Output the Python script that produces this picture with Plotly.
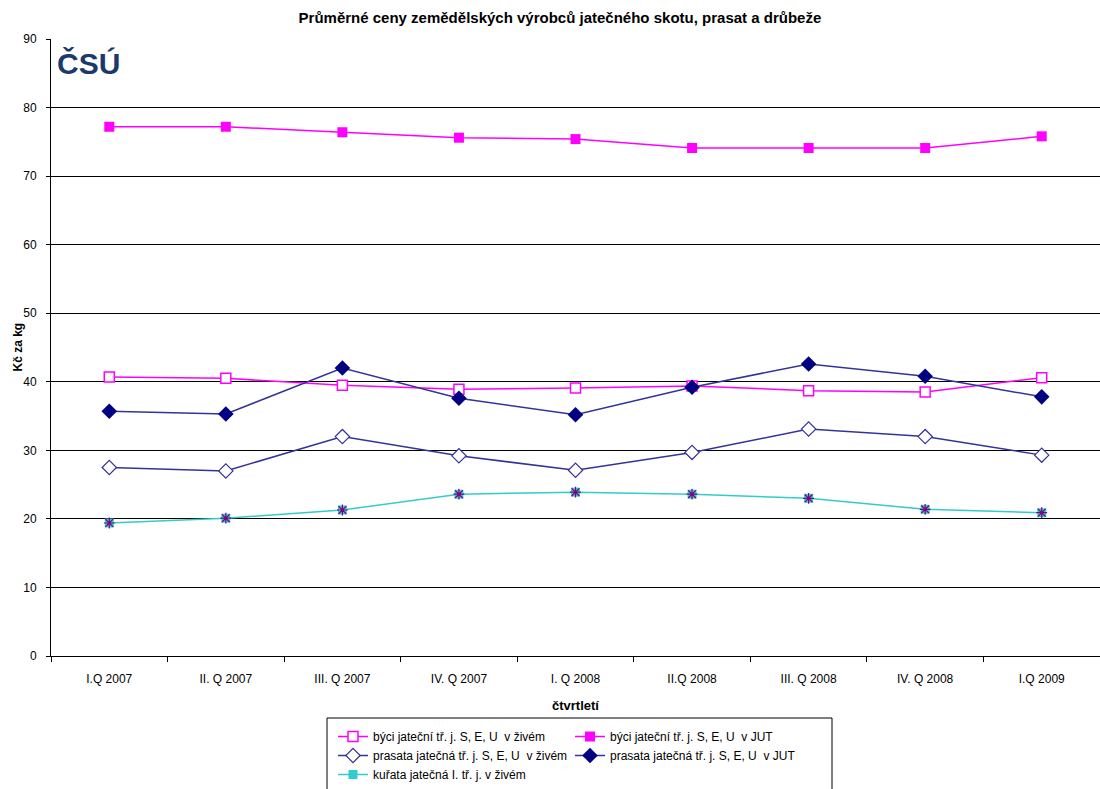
import plotly.graph_objects as go

# Quarters on the category axis
quarters = ["I.Q 2007", "II. Q 2007", "III. Q 2007", "IV. Q 2007", "I. Q 2008",
            "II.Q 2008", "III. Q 2008", "IV. Q 2008", "I.Q 2009"]

# Average producer prices, Kč per kg
byci_zive = [40.7, 40.5, 39.5, 38.9, 39.1, 39.4, 38.7, 38.5, 40.6]
byci_jut = [77.2, 77.2, 76.4, 75.6, 75.4, 74.1, 74.1, 74.1, 75.8]
prasata_zive = [27.5, 27.0, 32.0, 29.2, 27.1, 29.7, 33.1, 32.0, 29.3]
prasata_jut = [35.7, 35.3, 42.0, 37.6, 35.2, 39.2, 42.6, 40.8, 37.8]
kurata_zive = [19.4, 20.1, 21.3, 23.6, 23.9, 23.6, 23.0, 21.4, 20.9]

y_ticks = list(range(0, 91, 10))

FONT = "Liberation Sans Narrow, Liberation Sans, Arial, sans-serif"
MAGENTA = "#FF00FF"
NAVY = "#000080"
NAVY_LINE = "#333399"
TEAL = "#33CCCC"

fig = go.Figure()

fig.add_trace(go.Scatter(
    x=quarters, y=byci_zive, mode="lines+markers",
    name="býci jateční tř. j. S, E, U  v živém",
    line=dict(color=MAGENTA, width=1.5),
    marker=dict(symbol="square", size=10, color="white",
                line=dict(color=MAGENTA, width=1.5)),
    legend="legend"))
fig.add_trace(go.Scatter(
    x=quarters, y=byci_jut, mode="lines+markers",
    name="býci jateční tř. j. S, E, U  v JUT",
    line=dict(color=MAGENTA, width=1.5),
    marker=dict(symbol="square", size=10, color=MAGENTA),
    legend="legend2"))
fig.add_trace(go.Scatter(
    x=quarters, y=prasata_zive, mode="lines+markers",
    name="prasata jatečná tř. j. S, E, U  v živém",
    line=dict(color=NAVY_LINE, width=1.5),
    marker=dict(symbol="diamond", size=11, color="white",
                line=dict(color=NAVY_LINE, width=1.2)),
    legend="legend"))
fig.add_trace(go.Scatter(
    x=quarters, y=prasata_jut, mode="lines+markers",
    name="prasata jatečná tř. j. S, E, U  v JUT",
    line=dict(color=NAVY_LINE, width=1.5),
    marker=dict(symbol="diamond", size=12, color=NAVY),
    legend="legend2"))
fig.add_trace(go.Scatter(
    x=quarters, y=kurata_zive, mode="lines+markers",
    name="kuřata jatečná I. tř. j. v živém",
    line=dict(color=TEAL, width=1.5),
    marker=dict(symbol="square", size=9, color=TEAL),
    legend="legend"))
# asterisk overlay on the poultry markers
fig.add_trace(go.Scatter(
    x=quarters, y=kurata_zive, mode="markers", showlegend=False,
    marker=dict(symbol="asterisk-open", size=9, color="#800080",
                line=dict(color="#800080", width=1.2)),
    hoverinfo="skip"))

# legend frame spanning both legend columns
fig.add_shape(type="rect", xref="paper", yref="paper",
              x0=(327 - 51) / 1049, x1=(832 - 51) / 1049,
              y0=(656 - 718) / 617, y1=(656 - 800) / 617,
              line=dict(color="black", width=1), fillcolor="rgba(0,0,0,0)")

fig.add_annotation(text="ČSÚ", xref="paper", yref="paper",
                   x=(55 - 51) / 1049, y=(656 - 63) / 617,
                   xanchor="left", yanchor="middle", showarrow=False,
                   font=dict(family="Liberation Sans, Arial", size=30,
                             color="#1B3A6B", weight="bold"))
fig.add_annotation(text="čtvrtletí", xref="paper", yref="paper",
                   x=0.5, y=(656 - 705) / 617, xanchor="center", yanchor="middle",
                   showarrow=False,
                   font=dict(family=FONT, size=13, color="black", weight="bold"))
fig.add_annotation(text="Kč za kg", xref="paper", yref="paper",
                   x=(17 - 51) / 1049, y=0.5, textangle=-90,
                   xanchor="center", yanchor="middle", showarrow=False,
                   font=dict(family=FONT, size=12, color="black", weight="bold"))

legend_common = dict(orientation="v", yanchor="top", xanchor="left",
                     bgcolor="rgba(0,0,0,0)", borderwidth=0, tracegroupgap=0,
                     font=dict(family=FONT, size=12, color="black"),
                     itemwidth=30)

fig.update_layout(
    width=1100, height=789,
    margin=dict(l=51, r=0, t=39, b=133),
    paper_bgcolor="white", plot_bgcolor="white",
    font=dict(family=FONT, size=12, color="black"),
    title=dict(text="Průměrné ceny zemědělských výrobců jatečného skotu, prasat a drůbeže",
               x=0.509, xanchor="center", y=1 - 18 / 789, yanchor="middle",
               font=dict(family=FONT, size=15, color="black", weight="bold")),
    legend=dict(x=(333 - 51) / 1049, y=(656 - 722) / 617, **legend_common),
    legend2=dict(x=(570 - 51) / 1049, y=(656 - 722) / 617, **legend_common),
    xaxis=dict(type="category", categoryorder="array", categoryarray=quarters,
               range=[-0.5, 8.5], showgrid=False, zeroline=False,
               showline=True, linecolor="black", linewidth=1,
               ticks="outside", tickson="boundaries", ticklen=5,
               tickcolor="black", ticklabelstandoff=12,
               tickfont=dict(family=FONT, size=12)),
    yaxis=dict(range=[0, 90], tickvals=y_ticks, showgrid=True,
               gridcolor="black", gridwidth=1, zeroline=False,
               showline=True, linecolor="black", linewidth=1,
               ticks="outside", ticklen=4, tickcolor="black",
               ticklabelstandoff=7,
               tickfont=dict(family=FONT, size=12)),
)

fig.write_html("out.html")
